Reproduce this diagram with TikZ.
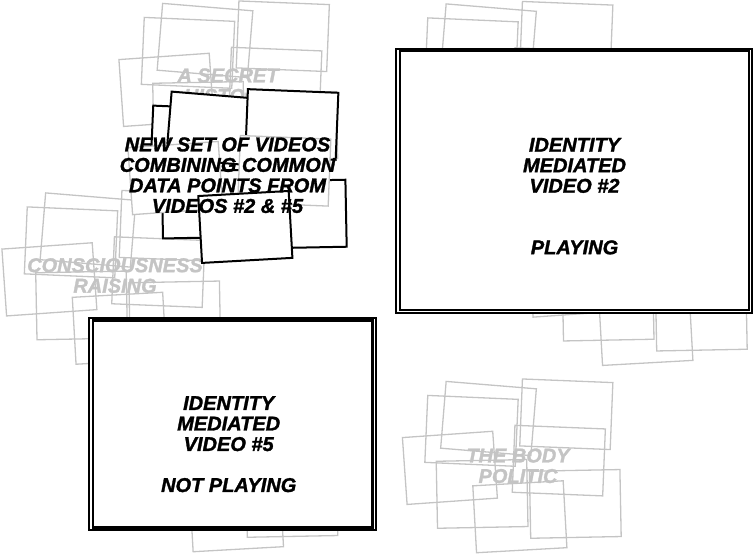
\documentclass[tikz,border=0pt]{standalone}
\usepackage{fontspec}
\setmainfont{Liberation Sans}[BoldItalicFeatures={FakeBold=1.5}]
\definecolor{rectgray}{RGB}{196,196,196}
\definecolor{textgray}{RGB}{196,196,196}
\tikzset{
  graybox/.style={draw=rectgray, line width=1.3pt},
  blackbox/.style={draw=black, line width=2pt, fill=white},
  grayfilled/.style={draw=rectgray, line width=1.3pt, fill=white},
  txt/.style={font=\bfseries\itshape\fontsize{20}{20.5}\selectfont, align=center, inner sep=0pt},
  ghost/.style={txt, text=textgray},
  frameout/.style={draw=black, line width=2pt, fill=white},
  framein/.style={draw=black, line width=2.5pt},
}
\newcommand{\vrect}[4]{\draw[#4,shift={(#1,#2)},rotate=#3] (-45.25,-33.5) rectangle (45.25,33.5);}
\newcommand{\rA}[1]{\vrect{488.5}{418.5}{-4.7}{#1}}
\newcommand{\rB}[1]{\vrect{471.5}{430.85}{-2.5}{#1}}
\newcommand{\rC}[1]{\vrect{566.3}{414.25}{-2.3}{#1}}
\newcommand{\rD}[1]{\vrect{449.9}{467.85}{4.0}{#1}}
\newcommand{\rE}[1]{\vrect{558.8}{460.6}{-2.3}{#1}}
\newcommand{\rF}[1]{\vrect{482.1}{493.9}{1.1}{#1}}
\newcommand{\rG}[1]{\vrect{519.85}{516.75}{3.2}{#1}}
\newcommand{\rH}[1]{\vrect{575.3}{503.9}{1.1}{#1}}
\newcommand{\graycluster}{\rA{graybox}\rB{graybox}\rC{graybox}\rD{graybox}\rE{graybox}\rF{graybox}\rG{graybox}\rH{graybox}}
\begin{document}
\begin{tikzpicture}[x=1pt,y=-1pt]
\useasboundingbox (0,0) rectangle (754,554);
% gray clusters
\begin{scope}[shift={(-283.5,-378)}]\graycluster\end{scope}
\begin{scope}[shift={(-400.5,-188.5)}]\graycluster\end{scope}
\begin{scope}[shift={(0,-377.5)}]\graycluster\end{scope}
\begin{scope}[shift={(126,-187.3)}]\graycluster\end{scope}
\begin{scope}[shift={(-283.4,-1)}]\graycluster\end{scope}
\begin{scope}[shift={(0,0)}]\graycluster\end{scope}
% gray labels
\node[ghost] (secret) at (228,85.7) {A SECRET\\HISTORY};
\node[ghost] (consc) at (115,275.5) {CONSCIOUSNESS\\RAISING};
\node[ghost] (body) at (518,465.8) {THE BODY\\POLITIC};
% black cluster
\begin{scope}[shift={(-274.5,-289.8)}]
\rB{blackbox}\rF{blackbox}\rA{blackbox}\rD{grayfilled}\rC{blackbox}\rH{blackbox}\rE{grayfilled}\rG{blackbox}
\end{scope}
\node[txt] (newset) at (227.5,175.2) {NEW SET OF VIDEOS\\COMBINING COMMON\\DATA POINTS FROM\\VIDEOS \#2 \& \#5};
% video 2 frame
\draw[frameout] (396,48.7) rectangle (752.2,313);
\draw[framein] (400.2,51) rectangle (749,310);
\node[txt] (vid2) at (574.5,196.2) {IDENTITY\\MEDIATED\\VIDEO \#2\\[41pt]PLAYING};
% video 5 frame
\draw[frameout] (89.2,318.3) rectangle (375.7,529.7);
\draw[framein] (93.2,320.5) rectangle (372.5,527.7);
\node[txt] (vid5) at (228.7,444.2) {IDENTITY\\MEDIATED\\VIDEO \#5\\[20.5pt]NOT PLAYING};
\end{tikzpicture}
\end{document}
